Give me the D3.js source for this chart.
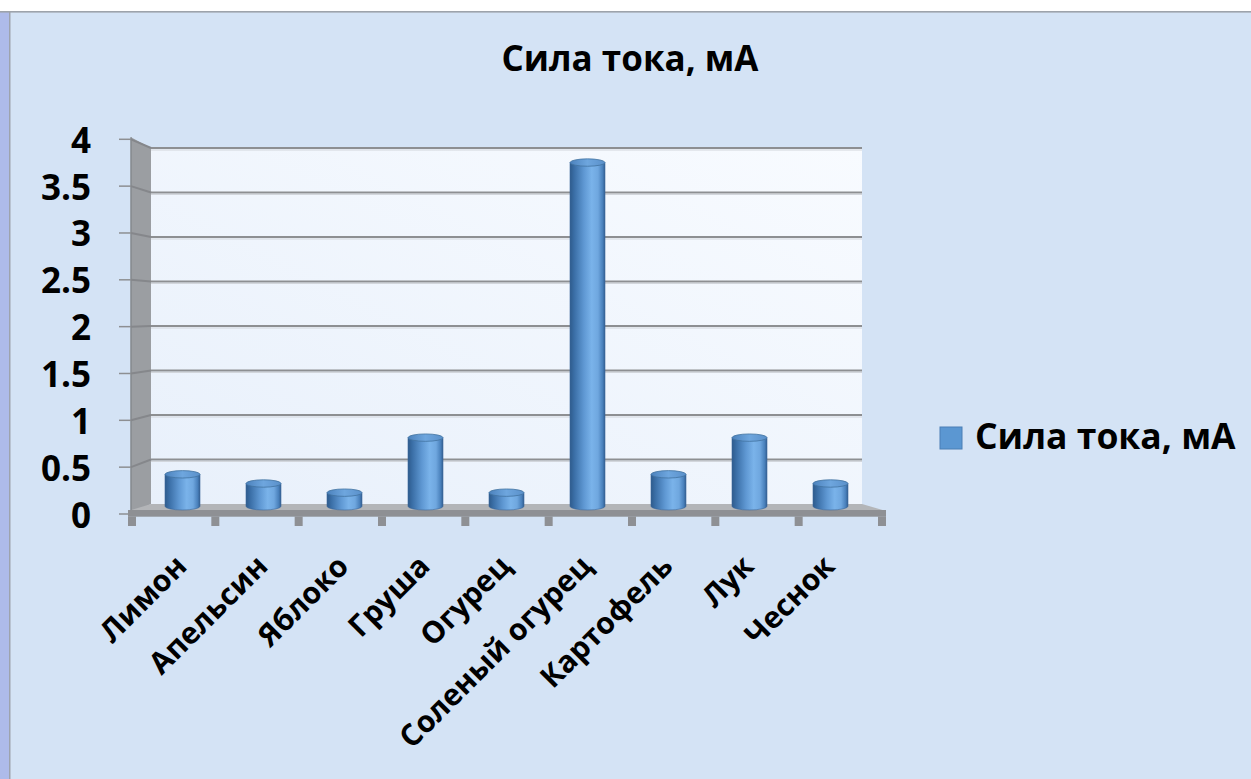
<!DOCTYPE html>
<html>
<head>
<meta charset="utf-8">
<script src="https://cdn.jsdelivr.net/npm/d3@7"></script>
<style>
  html, body { margin: 0; padding: 0; background: #ffffff; }
  svg { display: block; }
  text { font-family: "Open Sans", "DejaVu Sans", sans-serif; font-weight: bold; fill: #000; }
</style>
</head>
<body>
<script>
// ---- data ----
const title = "Сила тока, мА";
const seriesName = "Сила тока, мА";
const categories = ["Лимон", "Апельсин", "Яблоко", "Груша", "Огурец", "Соленый огурец", "Картофель", "Лук", "Чеснок"];
const values = [0.4, 0.3, 0.2, 0.8, 0.2, 3.8, 0.4, 0.8, 0.3];
const yTicks = [0, 0.5, 1, 1.5, 2, 2.5, 3, 3.5, 4];
const yTickLabels = ["0", "0.5", "1", "1.5", "2", "2.5", "3", "3.5", "4"];

const W = 1251, H = 779;
const svg = d3.select("body").append("svg").attr("width", W).attr("height", H);
const defs = svg.append("defs");

// background frame
svg.append("rect").attr("x", 0).attr("y", 0).attr("width", W).attr("height", H).attr("fill", "#ffffff");
svg.append("rect").attr("x", 0).attr("y", 11).attr("width", W).attr("height", H - 11).attr("fill", "#d4e3f5");
svg.append("rect").attr("x", 0).attr("y", 11).attr("width", 9).attr("height", H - 11).attr("fill", "#aebbea");
svg.append("rect").attr("x", 9).attr("y", 11).attr("width", 1.5).attr("height", H - 11).attr("fill", "#9da3ad");
svg.append("rect").attr("x", 0).attr("y", 11).attr("width", W).attr("height", 1.6).attr("fill", "#9da3ab");

// scales
const x = d3.scaleBand().domain(categories).range([142, 871]).padding(0);
const yFront = d3.scaleLinear().domain([0, 4]).range([514, 139.3]);
const yBack = d3.scaleLinear().domain([0, 4]).range([504, 148]);
const yBar = d3.scaleLinear().domain([0, 4]).range([511, 144.2]);

const frontL = 131, backL = 151, backR = 862, floorFL = 128, floorFR = 886;

// back wall gradient
const gWall = defs.append("linearGradient").attr("id", "gWall")
  .attr("x1", "0").attr("y1", "1").attr("x2", "1").attr("y2", "0");
gWall.append("stop").attr("offset", "0%").attr("stop-color", "#e8f0fb");
gWall.append("stop").attr("offset", "100%").attr("stop-color", "#f8fbff");

svg.append("rect")
  .attr("x", backL).attr("y", yBack(4))
  .attr("width", backR - backL).attr("height", yBack(0) - yBack(4))
  .attr("fill", "url(#gWall)");

// side wall
svg.append("polygon")
  .attr("points", [[frontL, yFront(4) - 2], [backL, yBack(4)], [backL, yBack(0)], [frontL, yFront(0)]].map(p => p.join(",")).join(" "))
  .attr("fill", "#9b9ea2");
svg.append("line").attr("x1", frontL).attr("x2", frontL).attr("y1", yFront(4) - 2).attr("y2", yFront(0))
  .attr("stroke", "#85888c").attr("stroke-width", 1.5);

// gridlines (back wall + side wall) and ticks
const grid = svg.append("g");
yTicks.forEach(v => {
  if (v > 0) {
    grid.append("line").attr("x1", backL).attr("x2", backR).attr("y1", yBack(v) + 2).attr("y2", yBack(v) + 2)
      .attr("stroke", "#d2d6dc").attr("stroke-width", 1.2);
    grid.append("line").attr("x1", backL).attr("x2", backR).attr("y1", yBack(v)).attr("y2", yBack(v))
      .attr("stroke", "#8d8f92").attr("stroke-width", 2);
    grid.append("line").attr("x1", frontL).attr("x2", backL).attr("y1", yFront(v)).attr("y2", yBack(v))
      .attr("stroke", "#85878b").attr("stroke-width", 2);
  }
  grid.append("line").attr("x1", 119).attr("x2", frontL).attr("y1", yFront(v)).attr("y2", yFront(v))
    .attr("stroke", "#8d8f92").attr("stroke-width", 1.5);
});

// floor
svg.append("polygon")
  .attr("points", [[floorFL, 511], [backL, yBack(0)], [backR, yBack(0)], [floorFR, 511]].map(p => p.join(",")).join(" "))
  .attr("fill", "#b3b5b8");
svg.append("rect").attr("x", floorFL).attr("y", 510).attr("width", floorFR - floorFL).attr("height", 6.7).attr("fill", "#8e9094");
// floor legs (category tick marks)
const nLegs = categories.length + 1;
const legStep = (floorFR - 8 - floorFL) / (nLegs - 1);
svg.append("g").selectAll("rect").data(d3.range(nLegs)).join("rect")
  .attr("x", i => floorFL + i * legStep).attr("y", 516.5).attr("width", 8).attr("height", 9.5)
  .attr("fill", "#8e9094");

// cylinder gradient
const gCyl = defs.append("linearGradient").attr("id", "gCyl").attr("x1", "0").attr("y1", "0").attr("x2", "1").attr("y2", "0");
[["0%", "#2e5b8c"], ["12%", "#3a6ea6"], ["40%", "#5f98d3"], ["62%", "#7ab3ea"], ["80%", "#6fa7df"], ["93%", "#4a81bc"], ["100%", "#325f92"]]
  .forEach(s => gCyl.append("stop").attr("offset", s[0]).attr("stop-color", s[1]));
const gTop = defs.append("linearGradient").attr("id", "gTop").attr("x1", "0").attr("y1", "0").attr("x2", "1").attr("y2", "0");
[["0%", "#4c82bd"], ["50%", "#6ea6de"], ["100%", "#5a90ca"]]
  .forEach(s => gTop.append("stop").attr("offset", s[0]).attr("stop-color", s[1]));

const bw = x.bandwidth() * 0.432;
const rx = bw / 2, ry = 3.7, baseY = 506.3;
const bars = svg.append("g").selectAll("g").data(categories.map((c, i) => ({ c, v: values[i] }))).join("g");
bars.append("path")
  .attr("d", d => {
    const cx = x(d.c) + x.bandwidth() / 2, top = yBar(d.v);
    return `M${cx - rx},${top} L${cx - rx},${baseY} A${rx},${ry} 0 0 0 ${cx + rx},${baseY} L${cx + rx},${top} Z`;
  })
  .attr("fill", "url(#gCyl)").attr("stroke", "#3a679a").attr("stroke-width", 0.6);
bars.append("ellipse")
  .attr("cx", d => x(d.c) + x.bandwidth() / 2).attr("cy", d => yBar(d.v))
  .attr("rx", rx).attr("ry", ry)
  .attr("fill", "url(#gTop)").attr("stroke", "#41729f").attr("stroke-width", 0.8);

// y labels
svg.append("g").selectAll("text").data(yTicks).join("text")
  .attr("x", 91).attr("y", v => yFront(v) + 13.5)
  .attr("text-anchor", "end").attr("font-size", 35)
  .text((v, i) => yTickLabels[i]);

// x labels
svg.append("g").selectAll("text").data(categories).join("text")
  .attr("transform", d => `translate(${x(d) + x.bandwidth() / 2 + 6},${568}) rotate(-45)`)
  .attr("text-anchor", "end").attr("font-size", 30)
  .text(d => d);

// title
svg.append("text").attr("x", 630).attr("y", 71).attr("text-anchor", "middle").attr("font-size", 35).text(title);

// legend
svg.append("rect").attr("x", 940).attr("y", 427).attr("width", 22).attr("height", 22)
  .attr("fill", "#5b97d2").attr("stroke", "#4a7fb5").attr("stroke-width", 1);
svg.append("text").attr("x", 975).attr("y", 449).attr("font-size", 35.5).text(seriesName);
</script>
</body>
</html>
